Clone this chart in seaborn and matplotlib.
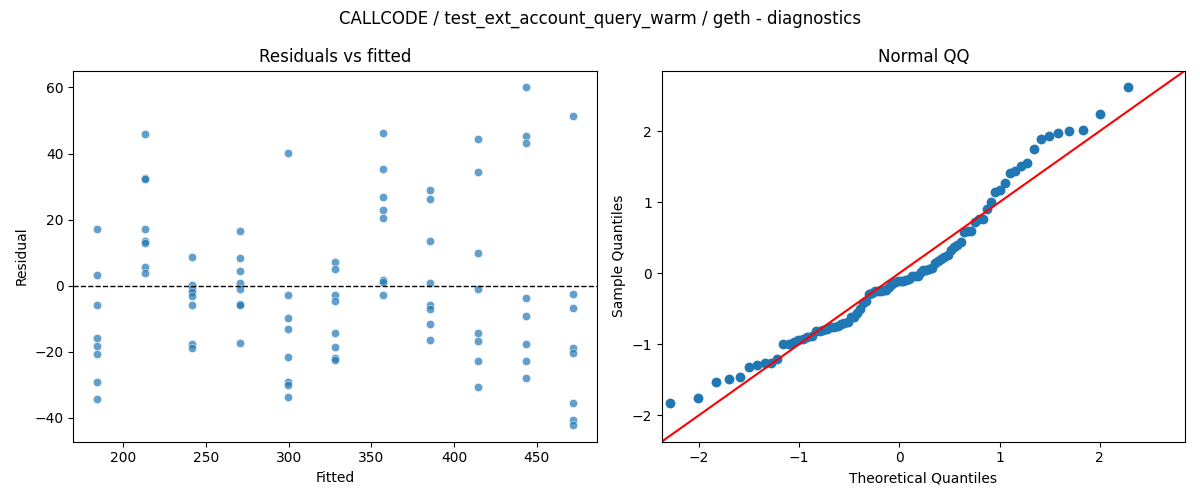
import numpy as np
import pandas as pd
import seaborn as sns
import matplotlib
matplotlib.use('Agg')
import matplotlib.pyplot as plt
from statistics import NormalDist

fitted_levels = [184.3, 213.1, 241.8, 270.6, 299.4, 328.1, 356.9, 385.7, 414.4, 443.2, 471.9]

resid_184 = [17.3, 3.3, -5.8, -15.9, -18.1, -20.7, -29.2, -34.3]
resid_213 = [45.8, 32.7, 32.2, 17.3, 13.5, 13.0, 5.8, 3.9]
resid_242 = [8.8, 0.1, -0.9, -1.9, -3.1, -5.8, -17.5, -18.8]
resid_271 = [16.5, 8.4, 4.4, 0.8, -1.0, -5.5, -5.7, -17.3]
resid_300 = [40.1, -2.8, -9.8, -13.1, -21.5, -29.2, -29.9, -33.6]
resid_329 = [7.3, 5.0, -2.8, -4.6, -14.3, -18.5, -21.8, -22.4]
resid_357 = [46.1, 35.3, 26.8, 22.9, 20.5, 1.6, 1.1, -2.8]
resid_386 = [28.9, 26.2, 13.5, 0.9, -5.9, -6.9, -11.6, -16.3]
resid_414 = [44.3, 34.4, 9.9, -1.0, -14.3, -16.7, -22.9, -30.6]
resid_443 = [60.0, 45.2, 43.1, -3.7, -9.2, -17.6, -22.9, -27.9]
resid_472 = [51.4, -2.5, -6.7, -18.8, -20.3, -35.4, -40.5, -42.1]

groups = [resid_184, resid_213, resid_242, resid_271, resid_300, resid_329,
          resid_357, resid_386, resid_414, resid_443, resid_472]

rows = []
for f, rs in zip(fitted_levels, groups):
    for r in rs:
        rows.append({'fitted': f, 'resid': r})
df = pd.DataFrame(rows)

# QQ data: standardized residuals against normal quantiles
r = np.sort(df['resid'].values)
n = len(r)
sample_q = (r - r.mean()) / r.std()
nd = NormalDist()
theo_q = np.array([nd.inv_cdf(i / (n + 1)) for i in range(1, n + 1)])

fig, axes = plt.subplots(1, 2, figsize=(12, 5), dpi=100)

ax = axes[0]
sns.scatterplot(data=df, x='fitted', y='resid', ax=ax, alpha=0.7)
ax.axhline(0, color='black', linestyle='--', linewidth=1)
ax.set_title('Residuals vs fitted')
ax.set_xlabel('Fitted')
ax.set_ylabel('Residual')

ax = axes[1]
sns.scatterplot(x=theo_q, y=sample_q, ax=ax, s=50, linewidth=0, color='#1f77b4')
ax.axline((0, 0), slope=1, color='red')
ax.set_xlim(-2.37, 2.85)
ax.set_ylim(-2.37, 2.85)
ax.set_title('Normal QQ')
ax.set_xlabel('Theoretical Quantiles')
ax.set_ylabel('Sample Quantiles')

fig.suptitle('CALLCODE / test_ext_account_query_warm / geth - diagnostics')
fig.tight_layout()
fig.savefig('out.png')
